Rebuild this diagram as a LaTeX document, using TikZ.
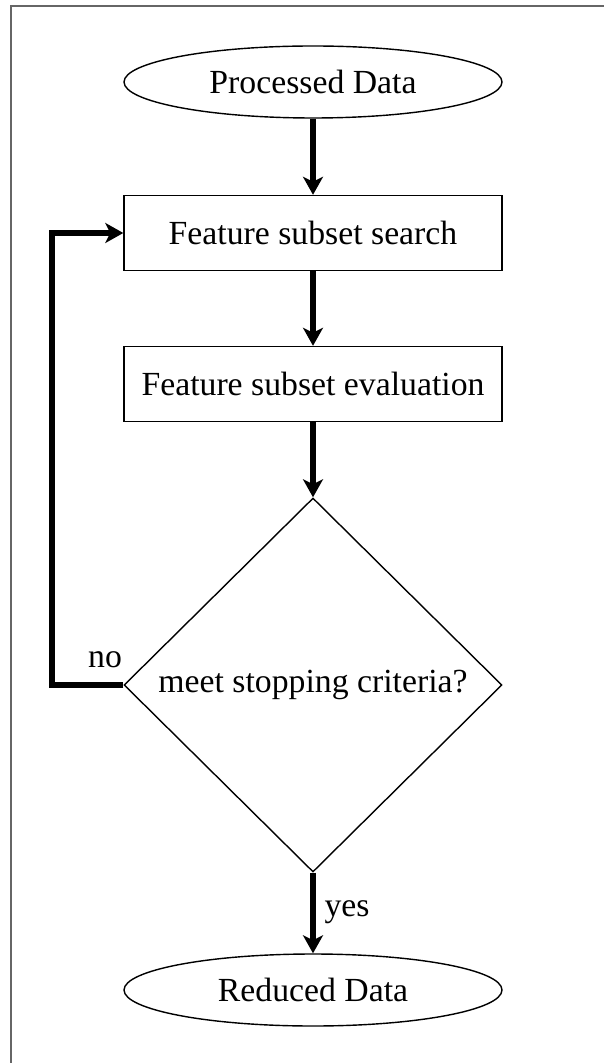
\documentclass[tikz,border=0pt]{standalone}
\usepackage{fontspec}
\setmainfont{Liberation Serif}
\usetikzlibrary{arrows.meta,shapes.geometric}

\tikzset{
  datanode/.style={draw, ellipse, minimum width=3.78cm, minimum height=0.72cm, inner sep=0pt},
  stepbox/.style={draw, rectangle, minimum width=3.78cm, minimum height=0.75cm, inner sep=0pt},
  checknode/.style={draw, diamond, minimum width=3.78cm, minimum height=3.74cm, inner sep=0pt},
  flowarrow/.style={-{Stealth[length=0.18cm, width=0.2cm, inset=0.05cm]}, line width=1.6pt}
}

\begin{document}
\begin{tikzpicture}[font=\fontsize{9.6}{11}\selectfont]

\useasboundingbox (0,0) rectangle (6.04,-10.63);

% frame
\draw[black!60, line width=0.8pt] (0.11,-10.63) -- (0.11,-0.06) -- (6.04,-0.06);

% nodes
\node[datanode] (input) at (3.13,-0.82) {Processed Data};
\node[stepbox] (search) at (3.13,-2.33) {Feature subset search};
\node[stepbox] (evaluation) at (3.13,-3.84) {Feature subset evaluation};
\node[checknode] (check) at (3.13,-6.85) {meet stopping criteria?};
\node[datanode] (output) at (3.13,-9.90) {Reduced Data};

% arrows
\draw[flowarrow] (input) -- (search);
\draw[flowarrow] (search) -- (evaluation);
\draw[flowarrow] (evaluation) -- (check);
\draw[flowarrow] (check) -- (output);

% loop back
\coordinate (loopx) at (0.52,0);
\draw[flowarrow] (check.west) -- (check.west -| loopx) |- (search.west);

% labels
\node (nolabel) at (1.05,-6.60) {no};
\node (yeslabel) at (3.47,-9.12) {yes};

\end{tikzpicture}
\end{document}
